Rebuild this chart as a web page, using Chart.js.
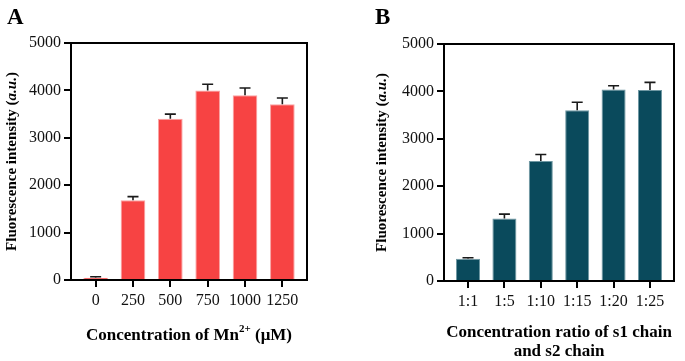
<!DOCTYPE html>
<html>
<head>
<meta charset="utf-8">
<script src="https://cdn.jsdelivr.net/npm/chart.js@4/dist/chart.umd.min.js"></script>
<style>
  html, body { margin: 0; padding: 0; background: #fff; }
  #wrap { position: relative; width: 685px; height: 361px; }
  canvas { position: absolute; top: 0; }
  #chartA { left: 0; }
  #chartB { left: 340px; }
</style>
</head>
<body>
<div id="wrap">
  <canvas id="chartA" width="340" height="361"></canvas>
  <canvas id="chartB" width="345" height="361"></canvas>
</div>
<script>
// panel A: Mn2+ concentration
const mnLabels = ["0", "250", "500", "750", "1000", "1250"];
const mnValues = [50, 1680, 3400, 4000, 3900, 3710];
const mnErrors = [20, 80, 100, 130, 150, 130];

// panel B: s1/s2 chain ratio
const ratioLabels = ["1:1", "1:5", "1:10", "1:15", "1:20", "1:25"];
const ratioValues = [470, 1320, 2530, 3600, 4040, 4030];
const ratioErrors = [20, 90, 140, 170, 80, 160];

const SERIF = '"Liberation Serif", "DejaVu Serif", serif';

// draws a row of text pieces with their own fonts, centred on (cx, cy)
function drawRuns(ctx, runs, cx, cy) {
  let total = 0;
  for (const r of runs) {
    ctx.font = r.font;
    r.w = ctx.measureText(r.text).width;
    total += r.w;
  }
  let x = cx - total / 2;
  ctx.textAlign = "left";
  ctx.textBaseline = "middle";
  for (const r of runs) {
    ctx.font = r.font;
    ctx.fillText(r.text, x, cy + (r.dy || 0));
    x += r.w;
  }
}

const panelPlugin = {
  id: "panel",
  afterDatasetsDraw(chart, args, opts) {
    const ctx = chart.ctx;
    const yScale = chart.scales.y;
    const meta = chart.getDatasetMeta(0);
    const values = chart.data.datasets[0].data;
    ctx.save();
    ctx.strokeStyle = "#1a1a1a";
    ctx.lineWidth = 1.6;
    meta.data.forEach((bar, i) => {
      const v = values[i].y;
      const top = yScale.getPixelForValue(v + opts.errors[i]);
      ctx.beginPath();
      ctx.moveTo(bar.x, bar.y);
      ctx.lineTo(bar.x, top);
      ctx.moveTo(bar.x - 5.5, top);
      ctx.lineTo(bar.x + 5.5, top);
      ctx.stroke();
    });
    ctx.restore();
  },
  afterDraw(chart, args, opts) {
    const ctx = chart.ctx;
    const a = chart.chartArea;
    ctx.save();
    // frame top and right
    ctx.strokeStyle = "#000";
    ctx.lineWidth = 2;
    ctx.beginPath();
    ctx.moveTo(a.left, a.top);
    ctx.lineTo(a.right, a.top);
    ctx.lineTo(a.right, a.bottom);
    ctx.stroke();

    ctx.fillStyle = "#000";
    ctx.font = "bold 23px " + SERIF;
    ctx.textAlign = "left";
    ctx.textBaseline = "alphabetic";
    ctx.fillText(opts.letter, opts.letterX, 24);

    // y title
    ctx.save();
    ctx.translate(opts.yTitleX, (a.top + a.bottom) / 2);
    ctx.rotate(-Math.PI / 2);
    drawRuns(ctx, [
      { text: "Fluorescence intensity (", font: "bold 15px " + SERIF },
      { text: "a.u.", font: "italic bold 15px " + SERIF },
      { text: ")", font: "bold 15px " + SERIF }
    ], 0, 0);
    ctx.restore();

    // x title
    const cx = (a.left + a.right) / 2;
    opts.xTitle.forEach((line, k) => {
      drawRuns(ctx, line, cx, opts.xTitleY + k * 19);
    });
    ctx.restore();
  }
};

function makeChart(id, labels, values, errors, color, edge, opts) {
  const ctx = document.getElementById(id).getContext("2d");
  return new Chart(ctx, {
    type: "bar",
    data: {
      datasets: [{
        data: values.map((v, i) => ({ x: i, y: v })),
        backgroundColor: color,
        borderColor: edge,
        borderWidth: 1,
        borderSkipped: "bottom",
        barPercentage: 0.66,
        categoryPercentage: 1
      }]
    },
    options: {
      responsive: false,
      devicePixelRatio: 1,
      animation: false,
      events: [],
      layout: { padding: { top: opts.top, right: opts.right, left: 0, bottom: 0 } },
      plugins: {
        legend: { display: false },
        tooltip: { enabled: false },
        panel: { letter: opts.letter, letterX: opts.letterX, yTitleX: opts.yTitleX,
                 xTitle: opts.xTitle, xTitleY: opts.xTitleY, errors: errors }
      },
      scales: {
        x: {
          type: "linear",
          offset: false,
          min: -0.66,
          max: labels.length - 0.34,
          afterFit: (s) => { s.height = opts.xHeight; },
          border: { color: "#000", width: 2 },
          grid: { offset: false, drawOnChartArea: false, drawTicks: true, tickLength: 7, color: "#000", lineWidth: 2 },
          ticks: {
            stepSize: 1,
            includeBounds: false,
            autoSkip: false,
            maxRotation: 0,
            padding: 4,
            color: "#111",
            font: { family: SERIF, size: 16 },
            callback: (v) => labels[v] !== undefined ? labels[v] : ""
          }
        },
        y: {
          min: 0,
          max: 5000,
          afterFit: (s) => { s.width = opts.yWidth; },
          border: { color: "#000", width: 2 },
          grid: { drawOnChartArea: false, drawTicks: true, tickLength: 7, color: "#000", lineWidth: 2 },
          ticks: {
            stepSize: 1000,
            padding: 3,
            color: "#111",
            font: { family: SERIF, size: 16 },
            callback: (v) => String(v)
          }
        }
      }
    },
    plugins: [panelPlugin]
  });
}

makeChart("chartA", mnLabels, mnValues, mnErrors, "#f74343", "#f9a3a3", {
  top: 43, right: 33, xHeight: 81, yWidth: 71,
  letter: "A", letterX: 7, yTitleX: 12,
  xTitleY: 336,
  xTitle: [[
    { text: "Concentration of Mn", font: "bold 17px " + SERIF },
    { text: "2+", font: "bold 11px " + SERIF, dy: -7 },
    { text: " (\u03bcM)", font: "bold 17px " + SERIF }
  ]]
});

makeChart("chartB", ratioLabels, ratioValues, ratioErrors, "#0a4a5c", "#6f98a3", {
  top: 44, right: 11, xHeight: 80, yWidth: 104,
  letter: "B", letterX: 35, yTitleX: 42,
  xTitleY: 333,
  xTitle: [
    [{ text: "Concentration ratio of s1 chain", font: "bold 17px " + SERIF }],
    [{ text: "and s2 chain", font: "bold 17px " + SERIF }]
  ]
});
</script>
</body>
</html>
